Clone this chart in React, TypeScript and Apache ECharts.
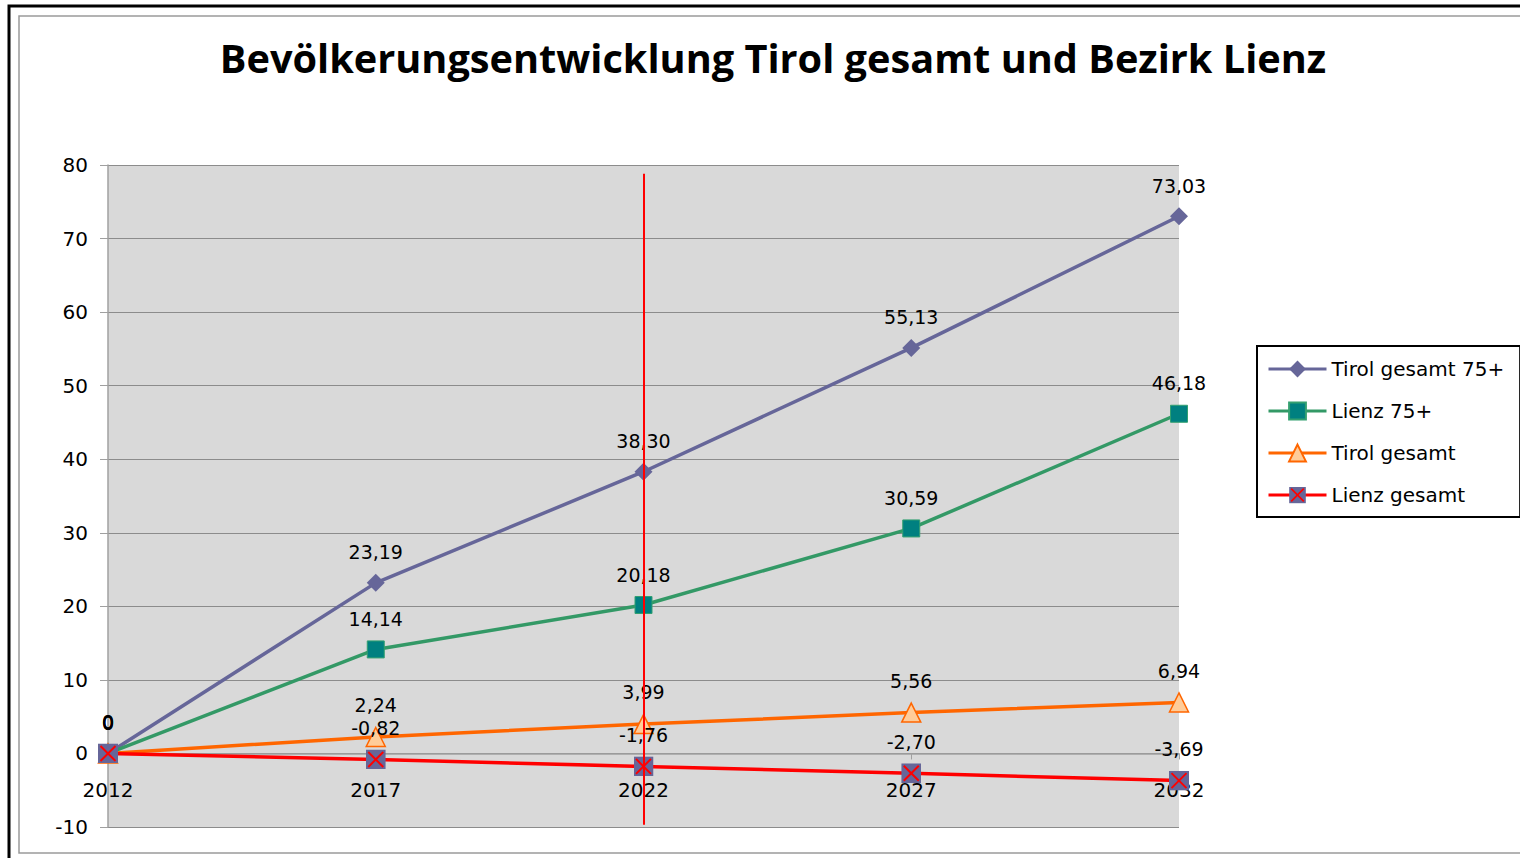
import React, { useEffect, useRef } from "react";
import * as echarts from "echarts";

const years = ["2012", "2017", "2022", "2027", "2032"];
const tirol75 = [0, 23.19, 38.3, 55.13, 73.03];
const lienz75 = [0, 14.14, 20.18, 30.59, 46.18];
const tirolGesamt = [0, 2.24, 3.99, 5.56, 6.94];
const lienzGesamt = [0, -0.82, -1.76, -2.7, -3.69];
const seriesNames = ["Tirol gesamt 75+", "Lienz 75+", "Tirol gesamt", "Lienz gesamt"];
const markYear = "2022";
const yMin = -10;
const yMax = 80;
const yStep = 10;

const FONT = "DejaVu Sans";
const W = 1520;
const H = 858;
const GRID_TOP = 165;
const GRID_BOTTOM = 31;
// x axis crosses at value 0: shift it up from the bottom of the plot
const plotH = H - GRID_TOP - GRID_BOTTOM;
const xAxisOffset = -plotH * (0 - yMin) / (yMax - yMin);

const xSvg =
  '<svg xmlns="http://www.w3.org/2000/svg" width="20" height="20" viewBox="0 0 20 20">' +
  '<rect x="0" y="0" width="20" height="20" fill="#666699"/>' +
  '<line x1="2.5" y1="2.5" x2="17.5" y2="17.5" stroke="#ff0000" stroke-width="2"/>' +
  '<line x1="17.5" y1="2.5" x2="2.5" y2="17.5" stroke="#ff0000" stroke-width="2"/>' +
  "</svg>";
const xSymbol = "image://data:image/svg+xml;charset=utf-8," + encodeURIComponent(xSvg);

const fmt = (p: any) => {
  const v = Number(p.value);
  return v === 0 ? "0" : v.toFixed(2).replace(".", ",");
};

const labelCfg = {
  show: true,
  position: "top" as const,
  distance: 12,
  formatter: fmt,
  color: "#000",
  fontSize: 19,
  fontFamily: FONT,
};

export default function App() {
  const ref = useRef<HTMLDivElement>(null);
  useEffect(() => {
    if (!ref.current) return;
    const chart = echarts.init(ref.current, undefined, { renderer: "svg" });
    chart.setOption({
      animation: false,
      backgroundColor: "#fff",
      title: {
        text: "Bevölkerungsentwicklung Tirol gesamt und Bezirk Lienz",
        left: 768,
        textAlign: "center",
        top: 33,
        textStyle: {
          fontFamily: "Open Sans",
          fontWeight: "bold",
          fontSize: 39.7,
          color: "#000",
        },
      },
      graphic: [
        {
          type: "rect",
          shape: { x: 9, y: 6, width: 1540, height: 900 },
          style: { fill: "none", stroke: "#000", lineWidth: 3 },
          silent: true,
        },
        {
          type: "rect",
          shape: { x: 19, y: 16, width: 1540, height: 837 },
          style: { fill: "none", stroke: "#9a9a9a", lineWidth: 1.5 },
          silent: true,
        },
      ],
      legend: {
        orient: "vertical",
        left: 1257,
        top: 346,
        data: seriesNames,
        itemWidth: 58,
        itemHeight: 21,
        itemGap: 22,
        borderColor: "#000",
        borderWidth: 2,
        padding: [13, 16, 12, 10],
        lineStyle: { width: 3 },
        textStyle: { fontSize: 20, fontFamily: FONT, color: "#000" },
      },
      grid: {
        left: 108,
        top: GRID_TOP,
        right: W - 1179,
        bottom: GRID_BOTTOM,
        show: true,
        backgroundColor: "#d9d9d9",
        borderWidth: 0,
        containLabel: false,
        outerBoundsMode: "none",
      },
      xAxis: {
        type: "category",
        data: years,
        boundaryGap: false,
        position: "bottom",
        offset: xAxisOffset,
        axisLine: { onZero: false, lineStyle: { color: "#a0a0a0", width: 1.5 } },
        axisTick: { show: true, length: 6, lineStyle: { color: "#a0a0a0" } },
        axisLabel: { margin: 27, fontSize: 20, fontFamily: FONT, color: "#000" },
        splitLine: { show: false },
        z: 1,
      },
      yAxis: {
        type: "value",
        min: yMin,
        max: yMax,
        interval: yStep,
        axisLine: { show: true, lineStyle: { color: "#a0a0a0", width: 1.5 } },
        axisTick: { show: true, length: 8, lineStyle: { color: "#a0a0a0" } },
        axisLabel: { margin: 20, fontSize: 20, fontFamily: FONT, color: "#000" },
        splitLine: { show: true, lineStyle: { color: "#8c8c8c", width: 1 } },
      },
      series: [
        {
          name: seriesNames[0],
          type: "line",
          data: tirol75,
          symbol: "diamond",
          symbolSize: 18,
          lineStyle: { color: "#666699", width: 3.5 },
          itemStyle: { color: "#666699" },
          label: labelCfg,
        },
        {
          name: seriesNames[1],
          type: "line",
          data: lienz75,
          symbol: "rect",
          symbolSize: 17,
          lineStyle: { color: "#339966", width: 3.5 },
          itemStyle: { color: "#008080", borderColor: "#33a070", borderWidth: 1 },
          label: labelCfg,
        },
        {
          name: seriesNames[2],
          type: "line",
          data: tirolGesamt,
          symbol: "triangle",
          symbolSize: 19,
          lineStyle: { color: "#ff6600", width: 3.5 },
          itemStyle: { color: "#ffcc99", borderColor: "#ff6600", borderWidth: 1.5 },
          label: labelCfg,
        },
        {
          name: seriesNames[3],
          type: "line",
          data: lienzGesamt,
          symbol: xSymbol,
          symbolSize: 20,
          lineStyle: { color: "#ff0000", width: 3.5 },
          itemStyle: { color: "#666699" },
          label: labelCfg,
          markLine: {
            silent: true,
            symbol: ["none", "none"],
            label: { show: false },
            lineStyle: { color: "#ff0000", width: 2, type: "solid" },
            data: [[{ coord: [markYear, 78.8] }, { coord: [markYear, -9.7] }]],
          },
        },
      ],
    });
    return () => chart.dispose();
  }, []);
  return (
    <div
      ref={ref}
      style={{ position: "absolute", left: 0, top: 0, width: W, height: H }}
    />
  );
}
